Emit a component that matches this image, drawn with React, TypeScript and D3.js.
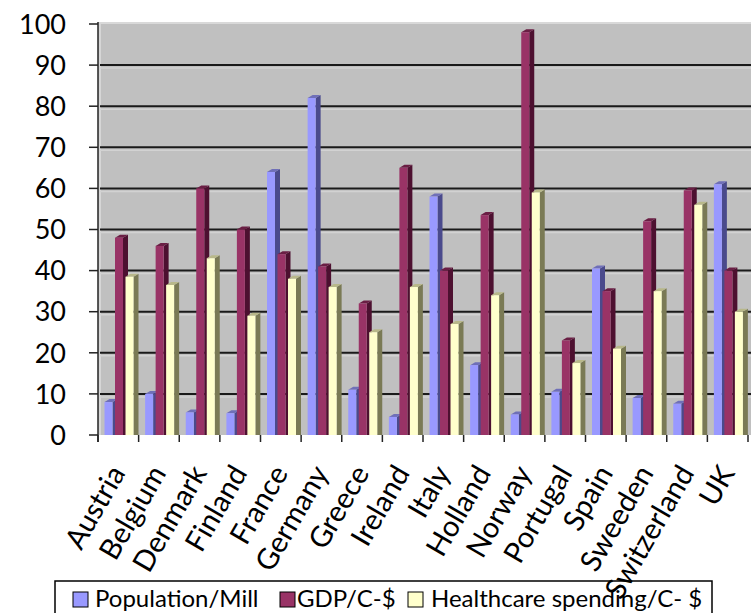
import React from "react";
import * as d3 from "d3";

// Country groups along the x axis
const countries = [
  "Austria", "Belgium", "Denmark", "Finland", "France", "Germany", "Greece", "Ireland",
  "Italy", "Holland", "Norway", "Portugal", "Spain", "Sweeden", "Switzerland", "UK",
];

// Series values, one per country
const population = [8, 10, 5.5, 5.3, 64, 82, 11, 4.4, 58, 17, 5, 10.5, 40.5, 9, 7.6, 61];
const gdp = [48, 46, 60, 50, 44, 41, 32, 65, 40, 53.5, 98, 23, 35, 52, 59.5, 40];
const healthcare = [38.5, 36.5, 43, 29, 38, 36, 25, 36, 27, 34, 59, 17.5, 21, 35, 56, 30];

const seriesNames = ["Population/Mill", "GDP/C-$", "Healthcare spending/C- $"];
const yTicks = [0, 10, 20, 30, 40, 50, 60, 70, 80, 90, 100];

const seriesData = [population, gdp, healthcare];
const faceColors = ["#9999FF", "#993366", "#FFFFCC"];
const sideColors = ["#4a4a8c", "#4d1030", "#7a7a55"];
const topColors = ["#6f6fb8", "#6a1e44", "#b8b88a"];

const W = 751;
const H = 613;
const left = 98;
const right = 748;
const y0 = 435;
const yTop = 24;
const font = "Lato, 'Open Sans', sans-serif";

export default function App() {
  const x = d3.scaleBand<string>().domain(countries).range([left, right]).padding(0);
  const xs = d3.scaleBand<string>().domain(seriesNames).range([6.5, 6.5 + 31.5]).padding(0);
  const y = d3.scaleLinear().domain([0, 100]).range([y0, yTop]);

  const faceW = 8;
  const sideW = 5;
  const depth = 3;

  const bars: React.ReactNode[] = [];
  countries.forEach((c, i) => {
    seriesNames.forEach((s, k) => {
      const v = seriesData[k][i];
      const bx = (x(c) ?? 0) + (xs(s) ?? 0);
      const by = y(v);
      const side = `M${bx + faceW},${by} L${bx + faceW + sideW},${by - depth} L${bx + faceW + sideW},${y0} L${bx + faceW},${y0} Z`;
      const top = `M${bx},${by} L${bx + sideW},${by - depth} L${bx + faceW + sideW},${by - depth} L${bx + faceW},${by} Z`;
      bars.push(
        <g key={`${c}-${s}`}>
          <path d={side} fill={sideColors[k]} />
          <path d={top} fill={topColors[k]} />
          <rect x={bx} y={by} width={faceW} height={y0 - by} fill={faceColors[k]} />
        </g>
      );
    });
  });

  const legendItems = [
    { sx: 73, tx: 95 },
    { sx: 280, tx: 297 },
    { sx: 408, tx: 431 },
  ];

  return (
    <svg
      width={W}
      height={H}
      style={{ position: "absolute", left: 0, top: 0, background: "#fff" }}
      fontFamily={font}
    >
      {/* back wall */}
      <rect x={left + 2} y={yTop - 2} width={W - left - 2} height={y0 - yTop + 2} fill="#c0c0c0" />
      <rect x={left} y={yTop - 2} width={3} height={y0 - yTop + 2} fill="#d6d6d6" />
      {yTicks.filter((t) => t > 0 && t < 100).map((t) => (
        <g key={`g${t}`}>
          <line x1={left + 2} x2={W} y1={y(t)} y2={y(t)} stroke="#1a1a1a" strokeWidth={2} />
          <line x1={left + 2} x2={W} y1={y(t) + 3} y2={y(t) + 3} stroke="#d2d2d2" strokeWidth={1.5} />
        </g>
      ))}
      <line x1={left + 2} x2={W} y1={yTop - 1} y2={yTop - 1} stroke="#d9d9d9" strokeWidth={2} />

      {bars}

      {/* y axis */}
      <line x1={left} x2={left} y1={yTop - 2} y2={y0 + 7} stroke="#222" strokeWidth={1.5} />
      {yTicks.map((t) => (
        <g key={`t${t}`}>
          <line x1={left - 9} x2={left} y1={y(t)} y2={y(t)} stroke="#222" strokeWidth={1.5} />
          <text x={66} y={y(t)} dy="0.36em" textAnchor="end" fontSize={27} fill="#000">
            {t}
          </text>
        </g>
      ))}

      {/* x axis ticks */}
      {[...countries.map((c) => x(c) ?? 0), right].map((px, i) => (
        <line key={`xt${i}`} x1={px} x2={px} y1={y0} y2={y0 + 7} stroke="#222" strokeWidth={1.5} />
      ))}

      {/* legend */}
      <rect x={55} y={581} width={657} height={45} fill="#fff" stroke="#000" strokeWidth={1.5} />
      {seriesNames.map((s, k) => (
        <g key={`lg${k}`}>
          <rect x={legendItems[k].sx} y={592} width={15} height={15} fill={faceColors[k]} stroke="#000" strokeWidth={1} />
          <text x={legendItems[k].tx} y={607} fontSize={24} fill="#000">
            {s}
          </text>
        </g>
      ))}

      {/* category labels */}
      {countries.map((c) => {
        const cx = (x(c) ?? 0) + x.bandwidth() / 2 + 8;
        const cy = 473;
        return (
          <text
            key={`xl${c}`}
            transform={`translate(${cx},${cy}) rotate(-60)`}
            textAnchor="end"
            fontSize={29}
            fill="#000"
          >
            {c}
          </text>
        );
      })}
    </svg>
  );
}
